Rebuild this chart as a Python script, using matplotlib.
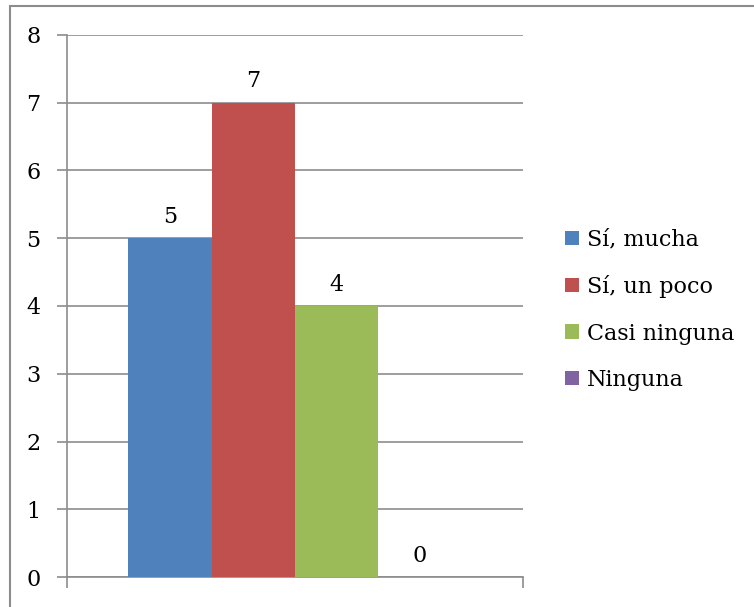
import matplotlib
matplotlib.use("Agg")
import matplotlib.pyplot as plt
from matplotlib.patches import Rectangle

categories = ["Sí, mucha", "Sí, un poco", "Casi ninguna", "Ninguna"]
values = [5, 7, 4, 0]
colors = ["#4F81BD", "#C0504D", "#9BBB59", "#8064A2"]

plt.rcParams['font.family'] = ['DejaVu Serif']
fs = 16

fig = plt.figure(figsize=(7.54, 6.07), dpi=100)
ax = fig.add_axes([67/754, 30/607, 456/754, 542/607])

# outer frame of the chart (only left and top edges visible)
fig.patches.append(Rectangle((10/754, -0.1), 1.0, 601/607 + 0.1, transform=fig.transFigure,
                             fill=False, edgecolor="#8c8c8c", linewidth=1.5))

width = 0.1827
offsets = [(i - 1.5) * width for i in range(len(values))]
for off, v, c, lab in zip(offsets, values, colors, categories):
    ax.bar(off, v, width=width, color=c, label=lab, zorder=3)
    ax.annotate(str(v), (off, v), xytext=(0, 11), textcoords="offset points",
                ha="center", va="baseline", fontsize=fs)

ax.set_xlim(-0.5, 0.5)
ax.set_ylim(0, 8)
ax.set_yticks(range(0, 9))
ax.set_xticks([-0.5, 0.5])
ax.set_xticklabels(["", ""])
ax.yaxis.grid(True, color="#8c8c8c", linewidth=1.2, zorder=0)
for s in ["top", "right"]:
    ax.spines[s].set_visible(False)
for s in ["left", "bottom"]:
    ax.spines[s].set_color("#8c8c8c")
    ax.spines[s].set_linewidth(1.2)
ax.tick_params(axis="y", length=7, color="#8c8c8c", width=1.2, labelsize=fs, pad=12)
ax.tick_params(axis="x", length=8, color="#8c8c8c", width=1.2)

ax.legend(loc="center left", bbox_to_anchor=(1.092, 0.493), frameon=False, fontsize=fs,
          handlelength=0.62, handleheight=0.62, handletextpad=0.35, labelspacing=1.1,
          borderpad=0, borderaxespad=0)

fig.savefig("out.png", dpi=100)
